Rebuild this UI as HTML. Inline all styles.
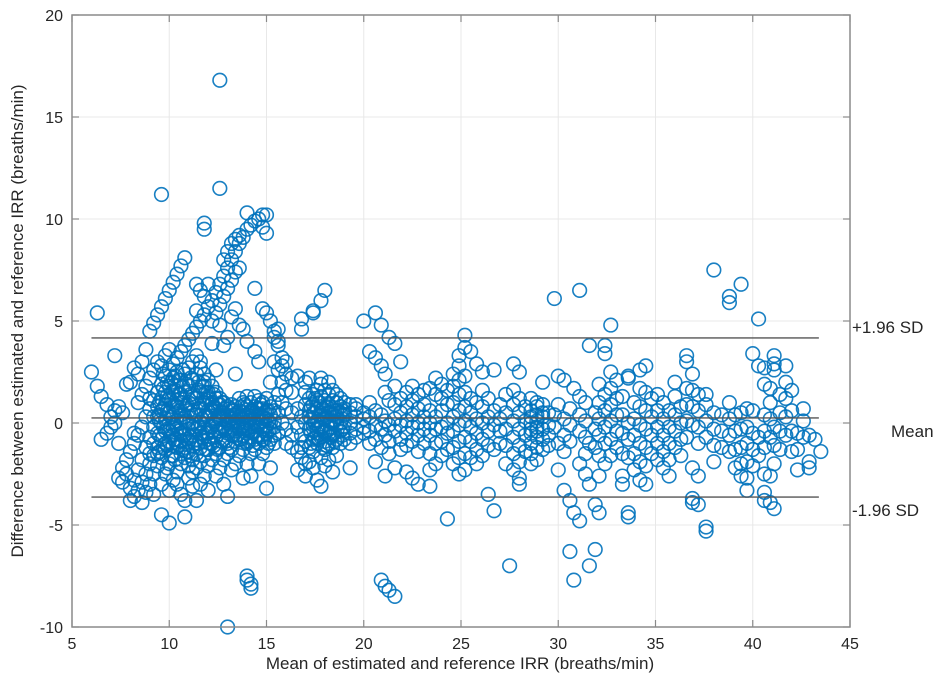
<!DOCTYPE html>
<html><head><meta charset="utf-8"><style>
html,body{margin:0;padding:0;background:#fff;}
svg{display:block;font-family:"Liberation Sans",Arial,sans-serif;}
</style></head><body>
<svg id="chart" width="945" height="692" viewBox="0 0 945 692">
<g id="grid"></g>
<g id="pts"></g>
<g id="lines"></g>
<g id="axes"></g>
<text x="460" y="669" text-anchor="middle" font-size="17" fill="#262626">Mean of estimated and reference IRR (breaths/min)</text>
<text transform="translate(23,321) rotate(-90)" text-anchor="middle" font-size="17" fill="#262626">Difference between estimated and reference IRR (breaths/min)</text>
<text x="852" y="333" font-size="17" fill="#262626">+1.96 SD</text>
<text x="891" y="437" font-size="17" fill="#262626">Mean</text>
<text x="852" y="516" font-size="17" fill="#262626">-1.96 SD</text>
</svg>
<script>
const xTicks=[5,10,15,20,25,30,35,40,45];
const yTicks=[-10,-5,0,5,10,15,20];
const limitValues=[4.17,0.25,-3.63];
const limitSpan=[6.0,43.4];
const colX=[6.0,6.3,6.5,6.8,7.0,7.2,7.4,7.6,7.8,8.0,8.2,8.4,8.6,8.8,9.0,9.2,9.4,9.6,9.8,10.0,10.2,10.4,10.6,10.8,11.0,11.2,11.4,11.6,11.8,12.0,12.2,12.4,12.6,12.8,13.0,13.2,13.4,13.6,13.8,14.0,14.2,14.4,14.6,14.8,15.0,15.2,15.4,15.6,15.8,16.0,16.3,16.6,16.8,17.0,17.2,17.4,17.6,17.8,18.0,18.2,18.4,18.6,18.8,19.0,19.3,19.6,20.0,20.3,20.6,20.9,21.1,21.3,21.6,21.9,22.2,22.5,22.8,23.1,23.4,23.7,24.0,24.3,24.6,24.9,25.2,25.5,25.8,26.1,26.4,26.7,27.0,27.3,27.5,27.7,28.0,28.3,28.6,28.9,29.2,29.5,29.8,30.0,30.3,30.6,30.8,31.1,31.4,31.6,31.9,32.1,32.4,32.7,33.0,33.3,33.6,33.9,34.2,34.5,34.8,35.1,35.4,35.7,36.0,36.3,36.6,36.9,37.2,37.6,38.0,38.4,38.8,39.1,39.4,39.7,40.0,40.3,40.6,40.9,41.1,41.4,41.7,42.0,42.3,42.6,42.9,43.2,43.5,
9.5,9.9,10.3,10.7,11.1,11.5,11.9,12.3,12.7,13.1,13.5,13.9,14.3,14.7,15.1,17.3,17.7,18.1,18.5,18.9,
9.7,10.1,10.5,10.9,11.3,11.7,12.1,12.5,12.9,13.3,13.7,14.1,14.5,14.9,17.5,17.9,18.3];
const colY=[[2.5],[5.4,1.8],[1.3,-0.8],[0.9,-0.5],[0.3,-0.2],[3.3,0.6,0.0],[0.8,-1.0,-2.7],[-2.2,-2.9,0.5],[1.9,-1.8,-2.5],[2.0,-1.4,-3.8,-3.2],[2.7,-1.0,-3.6,-2.8,-0.5],[2.4,-0.6,-3.3,-2.3,1.0],[3.0,-0.2,-2.9,-1.8,1.4,-3.9],[3.6,0.3,-2.5,-1.2,1.8,-3.4],[4.5,0.7,-2.0,-0.7,2.2,-3.0,1.2,-1.5],[4.9,1.1,-1.6,-0.2,2.6,-2.5,0.3,-1.0,-3.5],[5.3,1.5,-1.2,0.3,3.0,-2.1,0.8,-0.5,-1.5],[5.7,11.2,1.9,-0.8,0.6,2.8,-1.7,1.2,0.0,-3.0,-4.5],[6.1,2.3,-0.4,0.9,3.3,-1.3,1.5,0.2,-2.5,-1.0],[6.5,2.6,0,1.2,3.6,-0.9,0.5,-2.0,-0.4,-3.3,-4.9,1.8],[6.9,2.9,0.4,1.5,-0.6,0.8,-1.6,-0.2,-2.8,2.2,-1.1],[7.3,3.2,0.8,1.8,-0.3,1.1,-1.2,0.1,-2.4,2.5,-3.0,-0.8],[7.7,3.5,1.2,2.1,0,1.4,-0.9,0.4,-2.0,-3.5,-0.5,-1.5],[8.1,3.8,1.5,2.4,0.3,-0.6,0.7,-1.7,-3.8,-1.2,-4.6],[4.1,1.8,2.7,0.6,-0.3,1.0,-1.4,-2.7,-0.9,-2.1,0],[4.4,2.1,3.0,0.9,0,1.3,-1.1,-2.4,-0.6,-1.8,-3.1],[4.7,2.4,0.4,1.2,-0.8,-1.5,-0.3,-2.2,5.5,6.8,3.3,-3.8],[5.0,2.7,0.7,1.5,-0.5,-1.2,0,-1.9,6.5,3.0,-3.0],[5.3,9.8,9.5,2.4,1.0,1.8,-0.2,-0.9,0.3,-1.6,6.2,2.0,-2.6],[5.7,2.1,1.3,-0.5,0.3,-1.3,0.6,-0.8,6.8,1.5,-2.1,-3.3],[6.0,1.8,1.0,-0.2,0.6,-1.0,0.9,-0.4,-1.8,5.0,3.9],[6.4,1.5,0.7,0.1,-0.7,1.2,-0.1,-1.5,5.4,2.6,-2.6],[6.8,16.8,11.5,1.2,0.4,-0.4,0.9,-1.2,0.2,5.8,4.8,-2.2],[7.2,8.0,1.0,0.2,-0.2,-0.8,0.5,6.2,3.8,-1.8,-3.0],[7.6,8.4,-10,0.8,0,-0.5,0.3,-1.0,6.6,4.2,-1.5,-3.6],[8.0,8.8,0.6,-0.2,-0.6,0.2,0.9,-1.3,7.0,5.2,-2.3],[8.4,9.0,0.4,-0.4,0.1,0.8,-0.9,7.4,5.6,-2.0,2.4],[8.8,9.2,0.3,-0.3,0.6,-0.8,1.2,7.6,4.8,-1.6],[9.1,0.2,-0.1,0.5,-0.6,1.0,-1.3,-0.3,4.6,-2.7],[10.3,9.5,-7.5,-7.7,0.4,0,-0.5,0.8,-1.0,1.3,-2.0,4.0],[9.7,-7.9,-8.1,0.3,-0.2,0.6,-0.7,1.0,-1.5,-2.6],[9.9,0.5,0,-0.4,0.8,-0.8,1.3,-1.3,6.6,3.5],[10.0,0.4,-0.1,0.7,-0.6,1.1,-1.0,-2.0,3.0],[10.2,9.6,0.3,0.1,-0.3,0.7,-0.8,1.0,-1.5,5.6],[10.2,9.3,0.2,-0.1,0.6,-0.5,1.2,-1.2,5.4,-3.2],[0.4,0,-0.3,0.8,-0.8,5.0,-2.2,2.0],[0.1,-0.2,0.6,-0.6,1.0,4.5,4.2,3.0,-1.0],[4.6,3.8,2.6,1.4,0.5,-0.5,4.0],[3.2,2.8,2.0,1.0,0],[3.0,2.4,1.6,0.7,-0.3,-1.0],[2.2,1.5,0.5,-0.6,-1.2],[0.7,-0.2,-1.4,-2.3,2.3],[0.3,-0.6,-1.7,-1.2,5.1,4.6],[0,0.9,-0.9,-2.0,1.5,2.0,-2.6],[1.2,0.3,-0.3,-1.2,0.6,-1.9,2.2],[1.4,0.5,-0.1,-0.8,0.9,-1.4,-2.2,5.5,5.4],[1.6,0.7,0.1,-0.5,1.1,-1.0,-0.3,-2.8],[1.3,0.4,-0.2,0.8,-0.7,1.9,-1.7,-3.1,6.0,2.2],[1.1,0.2,-0.4,0.6,-0.9,1.6,-1.3,-2.1,6.5],[0.9,0.1,-0.5,0.5,-1.0,1.4,-1.8,2.0],[0.7,0,-0.6,0.4,-1.2,1.1,-2.4,1.6],[0.6,-0.1,0.3,-0.8,1.0,-1.6,1.4],[0.5,0,-0.4,0.8,-1.0,1.2],[0.4,-0.2,0.7,-0.8,1.0],[0.5,0,-0.5,0.9,-1.0,-2.2],[0.3,-0.3,0.7,-0.7,0.9],[0.5,-0.2,0.2,-0.5,5.0],[1.0,0.3,-0.4,3.5,-1.0],[0.6,-0.1,-0.8,3.2,5.4,-1.9],[0.4,-0.3,-1.2,2.8,4.8,-7.7],[0.1,-0.6,1.5,2.4,-8.0,-2.6],[-0.1,-0.9,1.1,4.2,-8.2,-1.5],[0.2,-0.4,0.9,3.9,-8.5,1.8,-2.2],[0.5,-0.1,-0.8,1.2,3.0,-1.3],[0.8,0.1,-0.5,1.5,-1.1,-2.4],[1.1,0.4,-0.2,1.8,-0.9,-2.7],[1.4,0.7,0,-0.6,-1.4,-3.0],[0.9,0.3,-0.3,-1.0,1.6],[1.7,0.6,0,-0.6,-1.5,-2.3,-3.1],[2.2,1.4,0.3,-0.3,-1.0,-2.0],[1.9,1.2,0.6,-0.2,-0.9,-1.6],[1.6,0.9,0,-0.5,-1.3,-4.7],[2.4,1.8,1.0,0.3,-0.4,-1.2,-2.0],[2.8,2.1,1.4,0.6,-0.1,-0.9,-1.7,-2.5,3.3],[2.3,1.5,0.8,0.1,-0.7,-1.5,-2.3,4.3,3.7],[1.2,0.5,-0.2,-0.9,-1.7,3.5],[1.0,0.2,-0.5,-1.3,-2.0,2.9],[2.5,0.8,0,-0.8,1.6,-1.6],[0.3,-0.4,-1.1,1.2,-3.5],[2.6,0.6,-0.1,-1.3,-4.3],[0.9,0.2,-0.4,-1.0],[1.4,0.5,-0.3,-1.1,-2.0],[-7.0],[1.6,0.9,0.1,-0.7,-1.5,-2.3,2.9],[1.2,0.5,-0.3,-1.1,-1.9,-2.7,-3.0,2.5],[0.8,0.1,-0.6,-1.4],[1.2,0.6,0,-0.5,-1.0,-1.5,-2.0,0.3,-0.3],[1.0,0.4,-0.2,-0.7,-1.2,-1.8,0.1,-0.4,0.8],[0.9,0.3,-0.3,-0.8,-1.3,0.5,2.0],[0.5,-0.1,-0.6,-1.1],[6.1,0.4,-0.2],[2.3,-1.0,-2.3,0.9],[0.2,-0.6,-1.4,-3.3,2.1],[0.7,-0.1,-0.9,-3.8,-6.3],[-7.7,-4.4,1.7],[6.5,1.3,0.4,-0.4,-4.8,-2.0],[1.0,0.1,-0.7,-1.5,-2.5],[-7.0,3.8,-1.0,-3.0],[-6.2,0.5,-0.3,-1.2,-4.0],[1.9,1.0,0.2,-0.6,-1.6,-2.6,-4.4],[3.8,3.4,1.4,0.6,-0.2,-1.0,-2.0],[4.8,2.5,1.7,0.9,0.1,-0.8,-1.6],[2.1,1.2,0.4,-0.4,-1.2],[1.3,0.4,-0.5,-1.5,-2.6,-3.0],[2.3,2.2,-4.4,-4.6,0,-0.8,-1.7],[1.0,0.2,-0.6,-1.5,-2.3],[2.6,1.7,0.8,-0.1,-1.0,-1.9,-2.8],[2.8,1.5,0.6,-0.3,-1.2,-2.1,-3.0],[1.2,0.3,-0.6,-1.5],[1.4,0.6,-0.2,-1.0,-1.8],[1.0,0.2,-0.6,-1.4,-2.2],[0.6,-0.2,-1.0,-1.8,-2.6],[1.3,0.4,-0.4,-1.2,2.0],[0.8,0,-0.8,-1.6],[3.3,3.0,1.7,0.9,0.1,-0.7],[2.4,1.6,0.8,-0.1,-2.2,-3.7,-3.9],[1.4,0.6,-0.2,-1.0,-2.6,-4.0],[-5.1,-5.3,0.9,0.1,-0.7,1.4],[7.5,0.5,-0.3,-1.1,-1.9],[0.4,-0.4,-1.2],[6.2,5.9,1.0,0.2,-0.6,-1.4],[0.4,-0.4,-1.3,-2.2],[6.8,0.5,-0.3,-1.2,-2.0,-2.6],[0.7,-0.2,-1.0,-1.9,-2.7,-3.3],[3.4,0.6,-0.5,-1.3,-2.1],[5.1,2.8,-0.7,-1.6],[2.7,1.9,0.4,-0.4,-1.2,-2.5,-3.4,-3.8],[1.7,1.0,0.2,-0.7,-2.6,-3.9],[3.3,2.9,2.6,-0.2,-1.1,-2.0,-4.2],[1.4,0.5,-0.4,-1.3],[2.8,2.0,1.2,0.3,-0.6],[1.6,0.6,-0.4,-1.4],[-0.5,-1.3,-2.3],[0.7,0.1,-0.7],[-1.9,-2.2,-0.6],[-0.8],[-1.4],
[0.4,-0.6,1.0,-1.4,0.1],[0.6,-0.3,1.3,-1.1,2.0,-2.2],[0.9,-0.1,1.6,-0.8,2.3,-1.8],[0.2,1.0,-0.5,1.8,-1.3,2.6],[0.5,-0.7,1.4,-1.6,2.2],[0.7,-0.2,1.6,-1.0,2.0],[0.4,-0.5,1.1,-1.3,1.5],[0.2,-0.6,0.8,-1.1,1.4],[0.5,-0.3,1.0,-0.9],[0.3,-0.4,0.7,-1.2],[0.1,-0.6,0.5,-0.2],[0.3,-0.3,0.9,-0.9],[0.2,-0.5,0.6,-1.1],[0.4,-0.2,0.9,-0.7],[0.1,-0.4,0.6,-1.0],[0.2,-0.5,0.8,-1.0],[0.4,-0.2,1.0,-0.8],[0.3,-0.4,0.8,-1.1],[0.1,-0.5,0.6,-0.9],[0.2,-0.3,0.6,-0.6],
[0.7,-0.2,1.7,-1.2,2.4],[0.3,1.1,-0.6,2.0,-1.6],[0.6,-0.4,1.4,-1.1,2.1],[0.1,0.9,-0.8,1.9,-1.4],[0.4,-0.3,1.2,-1.0],[0.2,-0.5,1.0,-0.7,1.8],[0.5,-0.2,1.2,-1.0],[0.3,-0.4,0.9,-1.3],[0.1,-0.3,0.7,-0.9],[0.4,-0.6,0.6,-0.1],[0.2,-0.2,0.8,-0.8],[0.1,-0.4,0.5,-0.9],[0.3,-0.1,0.7,-0.6],[0.2,-0.3,0.5,-0.8],[0.0,0.5,-0.7,1.2],[0.2,-0.4,0.7,-1.2],[0.1,-0.2,0.5,-0.7]];

const L=72,R=850,T=15,B=627;
const xS=v=>L+(v-5)/40*(R-L);
const yS=v=>B-(v+10)/30*(B-T);
const NS='http://www.w3.org/2000/svg';
function mk(tag,attrs,parent){const e=document.createElementNS(NS,tag);for(const k in attrs)e.setAttribute(k,attrs[k]);parent.appendChild(e);return e;}
const grid=document.getElementById('grid'),axes=document.getElementById('axes'),pts=document.getElementById('pts'),lines=document.getElementById('lines');
xTicks.forEach(t=>{
  const x=xS(t);
  if(t>5&&t<45){const g=mk('line',{x1:x,x2:x,y1:T,y2:B,stroke:'#e8e8e8','stroke-width':1},grid);
  
  }
  const tk=mk('line',{x1:x,x2:x,y1:B,y2:B-7,stroke:'#8a8a8a','stroke-width':1.2},axes);
  
  
  const tk2=mk('line',{x1:x,x2:x,y1:T,y2:T+7,stroke:'#8a8a8a','stroke-width':1.2},axes);
  
  
  const tl=mk('text',{x:x,y:B+22,'text-anchor':'middle','font-size':16,fill:'#262626'},axes);
  tl.textContent=t;
  
  
});
yTicks.forEach(t=>{
  const y=yS(t);
  if(t>-10&&t<20){const g=mk('line',{x1:L,x2:R,y1:y,y2:y,stroke:'#e8e8e8','stroke-width':1},grid);
  
  }
  const tk=mk('line',{x1:L,x2:L+7,y1:y,y2:y,stroke:'#8a8a8a','stroke-width':1.2},axes);
  
  
  const tk2=mk('line',{x1:R,x2:R-7,y1:y,y2:y,stroke:'#8a8a8a','stroke-width':1.2},axes);
  
  
  const tl=mk('text',{x:L-9,y:y+6,'text-anchor':'end','font-size':16,fill:'#262626'},axes);
  tl.textContent=t;
  
  
});
const box=mk('rect',{x:L,y:T,width:R-L,height:B-T,fill:'none',stroke:'#8a8a8a','stroke-width':1.5},axes);


colX.forEach((cx,i)=>{
  (colY[i]||[]).forEach(v=>{
    const c=mk('circle',{cx:xS(cx),cy:yS(v),r:6.8,fill:'none',stroke:'#0072BD','stroke-width':1.6,'stroke-opacity':0.9},pts);
    
    
  });
});
limitValues.forEach((v,i)=>{
  const l=mk('line',{x1:xS(limitSpan[0]),x2:xS(limitSpan[1]),y1:yS(v),y2:yS(v),stroke:'#555','stroke-width':1.4},lines);
  
  
});
</script>
</body></html>
